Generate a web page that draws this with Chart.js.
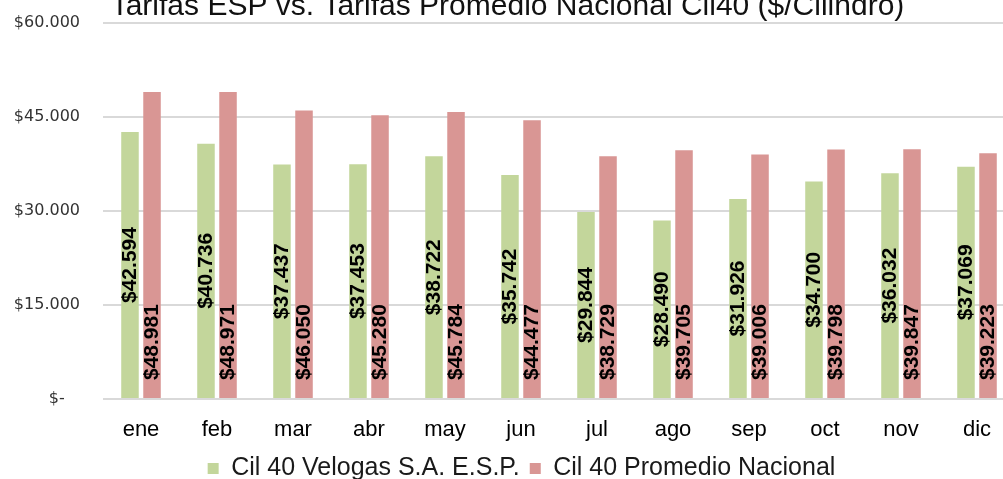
<!DOCTYPE html>
<html>
<head>
<meta charset="utf-8">
<script src="https://cdn.jsdelivr.net/npm/chart.js@4/dist/chart.umd.min.js"></script>
<style>
  html, body { margin: 0; padding: 0; background: #fff; overflow: hidden; width: 1003px; height: 479px; }
  #wrap { position: absolute; left: 0; top: -20px; width: 1015px; height: 511px; }
</style>
</head>
<body>
<div id="wrap"><canvas id="tarifasChart"></canvas></div>
<script>
// meses y tarifas por cilindro de 40 lb
const months = ['ene', 'feb', 'mar', 'abr', 'may', 'jun', 'jul', 'ago', 'sep', 'oct', 'nov', 'dic'];
const velogas = [42594, 40736, 37437, 37453, 38722, 35742, 29844, 28490, 31926, 34700, 36032, 37069];
const promedio = [48981, 48971, 46050, 45280, 45784, 44477, 38729, 39705, 39006, 39798, 39847, 39223];
const yTicks = [0, 15000, 30000, 45000, 60000];

function miles(n) {
    return String(n).replace(/\B(?=(\d{3})+(?!\d))/g, '.');
}

// etiquetas verticales sobre las barras
const barLabels = {
    id: 'barLabels',
    afterDatasetsDraw(chart) {
        const ctx = chart.ctx;
        ctx.save();
        ctx.font = 'bold 21px Arial, "Liberation Sans", sans-serif';
        ctx.fillStyle = '#000';
        ctx.textBaseline = 'middle';
        chart.data.datasets.forEach(function(ds, i) {
            chart.getDatasetMeta(i).data.forEach(function(bar, j) {
                ctx.save();
                if (i === 0) {
                    ctx.translate(bar.x, (bar.y + bar.base) / 2);
                    ctx.textAlign = 'center';
                } else {
                    ctx.translate(bar.x, bar.base - 18);
                    ctx.textAlign = 'left';
                }
                ctx.rotate(-Math.PI / 2);
                ctx.fillText('$' + miles(ds.data[j]), 0, 0);
                ctx.restore();
            });
        });
        ctx.restore();
    }
};

// la leyenda va un poco a la derecha, como en el original
const legendShift = {
    id: 'legendShift',
    afterLayout(chart) {
        chart.legend.left += 14;
        chart.legend.right += 14;
    }
};

const ctxTarifas = document.getElementById('tarifasChart');

new Chart(ctxTarifas, {
    type: 'bar',
    data: {
        labels: months,
        datasets: [{
            label: 'Cil 40 Velogas S.A. E.S.P.',
            data: velogas,
            backgroundColor: '#c3d69b',
            categoryPercentage: 0.58,
            barPercentage: 0.795
        }, {
            label: 'Cil 40 Promedio Nacional',
            data: promedio,
            backgroundColor: '#d99694',
            categoryPercentage: 0.58,
            barPercentage: 0.795
        }]
    },
    options: {
        responsive: true,
        maintainAspectRatio: false,
        animation: false,
        plugins: {
            title: {
                display: true,
                text: 'Tarifas ESP vs. Tarifas Promedio Nacional Cil40 ($/Cilindro)',
                color: '#111',
                font: { family: 'Arial, "Liberation Sans", sans-serif', size: 30, weight: 'normal', lineHeight: 1 },
                padding: { top: 12, bottom: 1 }
            },
            legend: {
                position: 'bottom',
                labels: {
                    color: '#1a1a1a',
                    boxWidth: 11,
                    boxHeight: 11,
                    padding: 10,
                    font: { family: 'Arial, "Liberation Sans", sans-serif', size: 25 }
                }
            },
            tooltip: { enabled: false }
        },
        scales: {
            x: {
                grid: { display: false },
                border: { display: false },
                ticks: {
                    color: '#000',
                    padding: 10,
                    font: { family: 'Arial, "Liberation Sans", sans-serif', size: 22 }
                },
                afterFit: function(scale) { scale.height = 47; }
            },
            y: {
                min: 0,
                max: 60000,
                afterBuildTicks: function(scale) {
                    scale.ticks = yTicks.map(function(v) { return { value: v }; });
                },
                grid: { color: '#d9d9d9', lineWidth: 2, drawTicks: false },
                border: { display: false },
                ticks: {
                    color: '#333',
                    padding: 23,
                    font: { family: '"DejaVu Sans", sans-serif', size: 16 },
                    callback: function(value) {
                        return value === 0 ? '$-   ' : '$' + miles(value);
                    }
                },
                afterFit: function(scale) { scale.width = 103; }
            }
        }
    },
    plugins: [barLabels, legendShift]
});
</script>
</body>
</html>
